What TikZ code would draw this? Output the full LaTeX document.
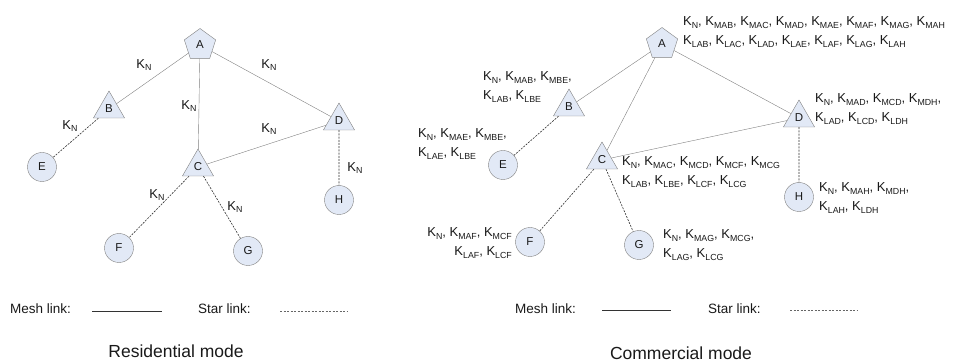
\documentclass[tikz,border=0pt]{standalone}
\usepackage{fontspec}
\setmainfont{Liberation Sans}
\usetikzlibrary{shapes.geometric}
\definecolor{nodefill}{RGB}{226,233,246}
\newcommand{\Kx}[1]{K\raisebox{-0.4ex}{\fontsize{8.8}{8.8}\selectfont #1}}

\begin{document}
\begin{tikzpicture}[x=1pt,y=-1pt,
    every node/.style={text=black!90},
    hub/.style={draw=black!50,fill=nodefill,regular polygon,regular polygon sides=5,minimum size=33pt,inner sep=0pt,font=\fontsize{11.5}{12}\selectfont},
    relay/.style={hub,regular polygon sides=3,minimum size=36pt},
    leaf/.style={hub,circle,minimum size=29pt},
    mesh/.style={draw=black!50,line width=0.4pt},
    star/.style={draw=black!80,line width=0.6pt,dash pattern=on 2pt off 1.2pt},
    kn/.style={font=\fontsize{13}{13}\selectfont,inner sep=0pt},
    keys/.style={font=\fontsize{13}{19}\selectfont,align=left,inner sep=0pt,anchor=west},
    legend/.style={font=\fontsize{13.5}{14}\selectfont,inner sep=0pt,anchor=west},
    caption/.style={font=\fontsize{17.5}{18}\selectfont,inner sep=0pt}]
    \useasboundingbox (0,0) rectangle (961,363);

    % residential mode
    \node[hub] (rA) at (200,45) {A};
    \node[relay] (rB) at (109,109) {B};
    \node[relay] (rC) at (198,167) {C};
    \node[relay] (rD) at (339,121) {D};
    \node[leaf] (rE) at (42,167) {E};
    \node[leaf] (rF) at (119,248) {F};
    \node[leaf] (rG) at (248,251) {G};
    \node[leaf] (rH) at (339,200) {H};
    \draw[mesh] (rA) -- (rB);
    \draw[mesh] (rA) -- (rC);
    \draw[mesh] (rA) -- (rD);
    \draw[mesh] (rC) -- (rD);
    \draw[star] (rB) -- (rE);
    \draw[star] (rC) -- (rF);
    \draw[star] (rC) -- (rG);
    \draw[star] (rD) -- (rH);
    \node[kn] (knAB) at (144,65) {\Kx{N}};
    \node[kn] (knAD) at (269,65) {\Kx{N}};
    \node[kn] (knAC) at (189,106) {\Kx{N}};
    \node[kn] (knBE) at (70,126) {\Kx{N}};
    \node[kn] (knCD) at (269,129) {\Kx{N}};
    \node[kn] (knDH) at (355,168) {\Kx{N}};
    \node[kn] (knCF) at (157,195) {\Kx{N}};
    \node[kn] (knCG) at (235,207) {\Kx{N}};

    \node[legend] (rMesh) at (10,309) {Mesh link:};
    \coordinate (rM1) at (92,311);
    \coordinate (rM2) at (162,311);
    \draw[black!80,line width=0.7pt] (rM1) -- (rM2);
    \node[legend] (rStar) at (198,309) {Star link:};
    \coordinate (rS1) at (280,311);
    \coordinate (rS2) at (348,311);
    \draw[black!60,line width=0.5pt,dash pattern=on 2pt off 1.5pt] (rS1) -- (rS2);
    \node[caption] (resi) at (176,351) {Residential mode};

    % commercial mode
    \node[hub] (cA) at (662,44) {A};
    \node[relay] (cB) at (569,107) {B};
    \node[relay] (cC) at (602,160) {C};
    \node[relay] (cD) at (799,118) {D};
    \node[leaf] (cE) at (503,165) {E};
    \node[leaf] (cF) at (530,242) {F};
    \node[leaf] (cG) at (639,245) {G};
    \node[leaf] (cH) at (799,197) {H};
    \draw[mesh] (cA) -- (cB);
    \draw[mesh] (cA) -- (cC);
    \draw[mesh] (cA) -- (cD);
    \draw[mesh] (cC) -- (cD);
    \draw[star] (cB) -- (cE);
    \draw[star] (cC) -- (cF);
    \draw[star] (cC) -- (cG);
    \draw[star] (cD) -- (cH);

    \node[keys] (keyA) at (683,32) {\Kx{N}, \Kx{MAB}, \Kx{MAC}, \Kx{MAD}, \Kx{MAE}, \Kx{MAF}, \Kx{MAG}, \Kx{MAH}\\
        \Kx{LAB}, \Kx{LAC}, \Kx{LAD}, \Kx{LAE}, \Kx{LAF}, \Kx{LAG}, \Kx{LAH}};
    \node[keys] (keyB) at (483,87) {\Kx{N}, \Kx{MAB}, \Kx{MBE},\\ \Kx{LAB}, \Kx{LBE}};
    \node[keys] (keyE) at (418,144) {\Kx{N}, \Kx{MAE}, \Kx{MBE},\\ \Kx{LAE}, \Kx{LBE}};
    \node[keys] (keyC) at (622,172) {\Kx{N}, \Kx{MAC}, \Kx{MCD}, \Kx{MCF}, \Kx{MCG}\\ \Kx{LAB}, \Kx{LBE}, \Kx{LCF}, \Kx{LCG}};
    \node[keys] (keyD) at (815,109) {\Kx{N}, \Kx{MAD}, \Kx{MCD}, \Kx{MDH},\\ \Kx{LAD}, \Kx{LCD}, \Kx{LDH}};
    \node[keys] (keyH) at (819,198) {\Kx{N}, \Kx{MAH}, \Kx{MDH},\\ \Kx{LAH}, \Kx{LDH}};
    \node[keys,anchor=east,align=right] (keyF) at (512,243) {\Kx{N}, \Kx{MAF}, \Kx{MCF}\\ \Kx{LAF}, \Kx{LCF}};
    \node[keys] (keyG) at (663,245) {\Kx{N}, \Kx{MAG}, \Kx{MCG},\\ \Kx{LAG}, \Kx{LCG}};

    \node[legend] (cMesh) at (515,309) {Mesh link:};
    \coordinate (cM1) at (602,310);
    \coordinate (cM2) at (671,310);
    \draw[black!80,line width=0.7pt] (cM1) -- (cM2);
    \node[legend] (cStar) at (708,309) {Star link:};
    \coordinate (cS1) at (790,310);
    \coordinate (cS2) at (858,310);
    \draw[black!60,line width=0.5pt,dash pattern=on 2pt off 1.5pt] (cS1) -- (cS2);
    \node[caption] (comm) at (681,353) {Commercial mode};
\end{tikzpicture}
\end{document}
